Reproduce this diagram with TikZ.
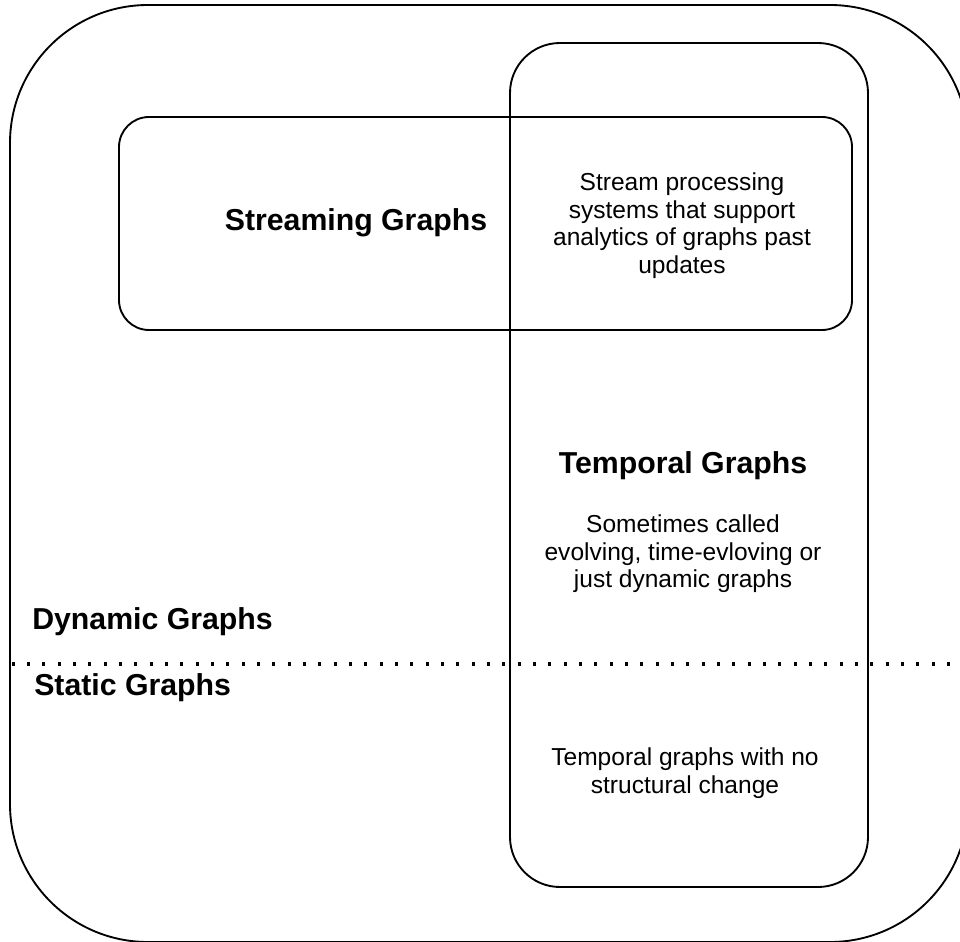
\documentclass[tikz,border=0pt]{standalone}
\usepackage{fontspec}
\setmainfont{Liberation Sans}
\tikzset{
  frame/.style={draw=black, line width=1.4pt},
  divider/.style={draw=black, line width=2.3pt, dash pattern=on 2.3pt off 9.2pt},
  title/.style={font=\bfseries\fontsize{22.7pt}{27pt}\selectfont, inner sep=0pt},
  body/.style={font=\fontsize{18.4pt}{20.6pt}\selectfont, align=center, inner sep=0pt},
}
\begin{document}
\begin{tikzpicture}[x=0.75pt, y=-0.75pt]
  \useasboundingbox (0,0) rectangle (960,942);
  \clip (0,0) rectangle (960,942);

  % outer frame: the whole space of graphs
  \draw[frame, rounded corners=103.5pt] (10,5) rectangle (968,942);
  % temporal graphs column
  \draw[frame, rounded corners=37.5pt] (510,43) rectangle (868,887);
  % streaming graphs band
  \draw[frame, rounded corners=22.5pt] (119,117) rectangle (852,330);

  % split between dynamic and static graphs
  \coordinate (divL) at (11.5,664);
  \coordinate (divR) at (960,664);
  \draw[divider] (divL) -- (divR);

  % labels
  \node[title, anchor=base] (streaming) at (356,230) {Streaming Graphs};
  \node[body] (streamtxt) at (682,225.5) {Stream processing\\systems that support\\analytics of graphs past\\updates};
  \node[title, anchor=base] (temporal) at (683,473) {Temporal Graphs};
  \node[body] (temporaltxt) at (683,554) {Sometimes called\\evolving, time-evloving or\\just dynamic graphs};
  \node[body] (statictxt) at (685,773) {Temporal graphs with no\\structural change};
  \node[title, anchor=base west] (dynamic) at (32,629) {Dynamic Graphs};
  \node[title, anchor=base west] (static) at (34,695) {Static Graphs};
\end{tikzpicture}
\end{document}
